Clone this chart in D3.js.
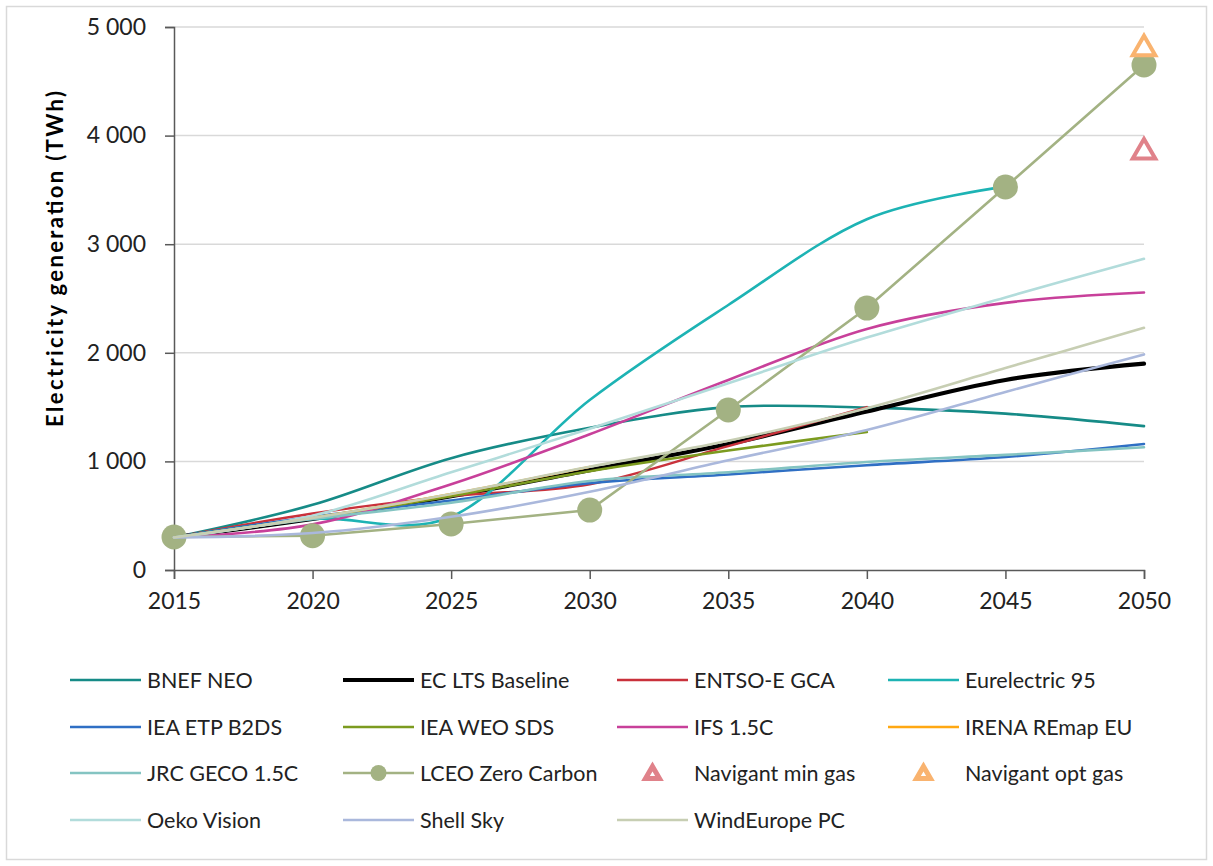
<!DOCTYPE html>
<html>
<head>
<meta charset="utf-8">
<script src="https://cdn.jsdelivr.net/npm/d3@7"></script>
<style>
  html, body { margin: 0; padding: 0; background: #fff; }
  svg { display: block; font-family: Lato, "Liberation Sans", sans-serif; }
</style>
</head>
<body>
<svg id="chart" width="1213" height="866"></svg>
<script>
// Electricity generation pathways (TWh), 2015-2050
const years = [2015, 2020, 2025, 2030, 2035, 2040, 2045, 2050];
const yTicks = [0, 1000, 2000, 3000, 4000, 5000];

const bnefNeo        = [300, 600, 1030, 1310, 1500, 1495, 1440, 1325];
const ecLtsBaseline  = [300, 470, 680, 920, 1160, 1460, 1750, 1900];
const entsoeGca      = [300, 520, 680, 790, 1140, 1500];
const eurelectric95  = [300, 470, 490, 1565, 2440, 3230, 3530];
const ieaEtpB2ds     = [300, 490, 640, 800, 880, 965, 1040, 1160];
const ieaWeoSds      = [300, 480, 680, 910, 1100, 1270];
const ifs15c         = [300, 420, 790, 1250, 1750, 2220, 2460, 2555];
const irenaRemapEu   = [300, 480, 700, 950];
const jrcGeco15c     = [300, 470, 620, 820, 900, 995, 1060, 1130];
const lceoZeroCarbon = [304, 316, 424, 552, 1473, 2412, 3527, 4650];
const navigantMinGas = [3850];
const navigantOptGas = [4800];
const oekoVision     = [300, 500, 900, 1300, 1720, 2140, 2510, 2865];
const shellSky       = [300, 340, 490, 720, 1010, 1290, 1640, 1985];
const windEuropePc   = [300, 480, 700, 950, 1190, 1490, 1860, 2230];

const series = [
  { name: "BNEF NEO",          values: bnefNeo,        color: "#168b87", width: 2.6, type: "smooth" },
  { name: "EC LTS Baseline",   values: ecLtsBaseline,  color: "#000000", width: 4.2, type: "smooth" },
  { name: "ENTSO-E GCA",       values: entsoeGca,      color: "#c9313b", width: 2.4, type: "smooth" },
  { name: "Eurelectric 95",    values: eurelectric95,  color: "#1db3b4", width: 2.6, type: "smooth" },
  { name: "IEA ETP B2DS",      values: ieaEtpB2ds,     color: "#2f6fc4", width: 2.6, type: "smooth" },
  { name: "IEA WEO SDS",       values: ieaWeoSds,      color: "#7c9b1f", width: 2.6, type: "smooth" },
  { name: "IFS 1.5C",          values: ifs15c,         color: "#c8409a", width: 2.6, type: "smooth" },
  { name: "IRENA REmap EU",    values: irenaRemapEu,   color: "#ffa812", width: 2.4, type: "smooth" },
  { name: "JRC GECO 1.5C",     values: jrcGeco15c,     color: "#84c4c2", width: 2.6, type: "smooth" },
  { name: "LCEO Zero Carbon",  values: lceoZeroCarbon, color: "#a3b283", width: 2.6, type: "markers" },
  { name: "Navigant min gas",  values: navigantMinGas, color: "#e0828a", width: 4,   type: "triangle", startYear: 2050 },
  { name: "Navigant opt gas",  values: navigantOptGas, color: "#f9b36f", width: 4,   type: "triangle", startYear: 2050 },
  { name: "Oeko Vision",       values: oekoVision,     color: "#b2dcdb", width: 2.6, type: "smooth" },
  { name: "Shell Sky",         values: shellSky,       color: "#aab8dc", width: 2.6, type: "smooth" },
  { name: "WindEurope PC",     values: windEuropePc,   color: "#c7ceb3", width: 2.6, type: "smooth" }
];

const svg = d3.select("#chart");

// outer frame
svg.append("rect")
  .attr("x", 6.5).attr("y", 6.5)
  .attr("width", 1200).attr("height", 853)
  .attr("fill", "#fff").attr("stroke", "#d9d9d9").attr("stroke-width", 1.5);

const x = d3.scaleLinear().domain([2015, 2050]).range([174, 1144]);
const y = d3.scaleLinear().domain([0, 5000]).range([570, 27]);

const fmt = d3.formatLocale({ decimal: ".", thousands: " ", grouping: [3], currency: ["", ""] }).format(",d");

// horizontal gridlines
svg.append("g")
  .selectAll("line")
  .data(yTicks.filter(d => d > 0))
  .join("line")
  .attr("x1", x(2015)).attr("x2", x(2050))
  .attr("y1", d => y(d)).attr("y2", d => y(d))
  .attr("stroke", "#d9d9d9").attr("stroke-width", 1.5);

// y axis
const yAxis = svg.append("g")
  .attr("transform", `translate(${x(2015)},0)`)
  .call(d3.axisLeft(y).tickValues(yTicks).tickFormat(fmt).tickSize(9).tickPadding(19));
yAxis.select(".domain").attr("stroke", "#595959").attr("stroke-width", 1.5);
yAxis.selectAll(".tick line").attr("stroke", "#595959").attr("stroke-width", 1.5);
yAxis.selectAll(".tick text")
  .attr("font-family", "Lato, sans-serif").attr("font-size", 23).attr("fill", "#222");

// x axis
const xAxis = svg.append("g")
  .attr("transform", `translate(0,${y(0)})`)
  .call(d3.axisBottom(x).tickValues(years).tickFormat(d3.format("d")).tickSize(9).tickPadding(14));
xAxis.select(".domain").attr("stroke", "#595959").attr("stroke-width", 1.5);
xAxis.selectAll(".tick line").attr("stroke", "#595959").attr("stroke-width", 1.5);
xAxis.selectAll(".tick text")
  .attr("font-family", "Lato, sans-serif").attr("font-size", 23).attr("fill", "#222");

// y axis title
svg.append("text")
  .attr("transform", "translate(63,259) rotate(-90)")
  .attr("text-anchor", "middle")
  .attr("font-family", "Lato, sans-serif")
  .attr("font-weight", "bold")
  .attr("font-size", 22)
  .attr("textLength", 336)
  .attr("lengthAdjust", "spacing")
  .attr("fill", "#000")
  .text("Electricity generation (TWh)");

const smoothLine = d3.line()
  .x((d, i) => x(years[i]))
  .y(d => y(d))
  .curve(d3.curveCatmullRom.alpha(0));

const straightLine = d3.line()
  .x((d, i) => x(years[i]))
  .y(d => y(d));

const plot = svg.append("g").attr("fill", "none");

series.forEach(s => {
  if (s.type === "smooth") {
    plot.append("path")
      .attr("d", smoothLine(s.values))
      .attr("stroke", s.color)
      .attr("stroke-width", s.width)
      .attr("stroke-linejoin", "round")
      .attr("stroke-linecap", "round");
  } else if (s.type === "markers") {
    plot.append("path")
      .attr("d", straightLine(s.values))
      .attr("stroke", s.color)
      .attr("stroke-width", s.width);
    plot.append("g")
      .selectAll("circle")
      .data(s.values)
      .join("circle")
      .attr("cx", (d, i) => x(years[i]))
      .attr("cy", d => y(d))
      .attr("r", 12.5)
      .attr("fill", s.color);
  } else if (s.type === "triangle") {
    plot.append("g")
      .selectAll("path")
      .data(s.values)
      .join("path")
      .attr("transform", (d, i) => `translate(${x(s.startYear + 5 * i)},${y(d)})`)
      .attr("d", d3.symbol(d3.symbolTriangle, 220)())
      .attr("fill", "#fff")
      .attr("stroke", s.color)
      .attr("stroke-width", s.width)
      .attr("stroke-linejoin", "miter");
  }
});

// legend: 4 columns x 4 rows
const legendCols = [70, 343, 617, 888];
const legendRows = [680, 727, 773, 820];
const sampleLen = 71;

const legend = svg.append("g");
series.forEach((s, i) => {
  const cx = legendCols[i % 4];
  const cy = legendRows[Math.floor(i / 4)];
  const g = legend.append("g").attr("transform", `translate(${cx},${cy})`);
  if (s.type === "triangle") {
    g.append("path")
      .attr("transform", `translate(${sampleLen / 2},1.5)`)
      .attr("d", d3.symbol(d3.symbolTriangle, 85)())
      .attr("fill", "#fff")
      .attr("stroke", s.color)
      .attr("stroke-width", 5);
  } else {
    g.append("line")
      .attr("x1", 0).attr("x2", sampleLen)
      .attr("y1", 0).attr("y2", 0)
      .attr("stroke", s.color)
      .attr("stroke-width", s.width);
    if (s.type === "markers") {
      g.append("circle")
        .attr("cx", sampleLen / 2).attr("cy", 0).attr("r", 8)
        .attr("fill", s.color);
    }
  }
  g.append("text")
    .attr("x", sampleLen + 6)
    .attr("y", 0)
    .attr("dy", "0.36em")
    .attr("font-family", "Lato, sans-serif")
    .attr("font-size", 21.5)
    .attr("fill", "#222")
    .text(s.name);
});
</script>
</body>
</html>
